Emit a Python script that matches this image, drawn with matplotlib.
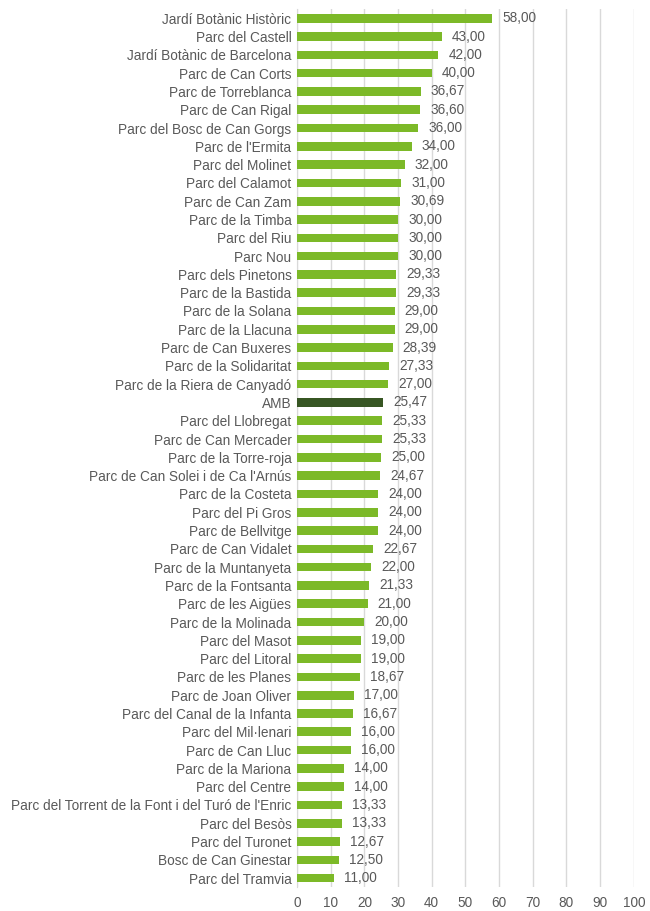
import numpy as np
import matplotlib.pyplot as plt

plt.rcParams['font.family'] = ['Liberation Sans', 'DejaVu Sans']

parks = [
    "Jardí Botànic Històric", "Parc del Castell", "Jardí Botànic de Barcelona",
    "Parc de Can Corts", "Parc de Torreblanca", "Parc de Can Rigal",
    "Parc del Bosc de Can Gorgs", "Parc de l'Ermita", "Parc del Molinet",
    "Parc del Calamot", "Parc de Can Zam", "Parc de la Timba", "Parc del Riu",
    "Parc Nou", "Parc dels Pinetons", "Parc de la Bastida", "Parc de la Solana",
    "Parc de la Llacuna", "Parc de Can Buxeres", "Parc de la Solidaritat",
    "Parc de la Riera de Canyadó", "AMB", "Parc del Llobregat",
    "Parc de Can Mercader", "Parc de la Torre-roja",
    "Parc de Can Solei i de Ca l'Arnús", "Parc de la Costeta", "Parc del Pi Gros",
    "Parc de Bellvitge", "Parc de Can Vidalet", "Parc de la Muntanyeta",
    "Parc de la Fontsanta", "Parc de les Aigües", "Parc de la Molinada",
    "Parc del Masot", "Parc del Litoral", "Parc de les Planes",
    "Parc de Joan Oliver", "Parc del Canal de la Infanta", "Parc del Mil·lenari",
    "Parc de Can Lluc", "Parc de la Mariona", "Parc del Centre",
    "Parc del Torrent de la Font i del Turó de l'Enric", "Parc del Besòs",
    "Parc del Turonet", "Bosc de Can Ginestar", "Parc del Tramvia",
]
values = [
    58.00, 43.00, 42.00, 40.00, 36.67, 36.60, 36.00, 34.00, 32.00, 31.00,
    30.69, 30.00, 30.00, 30.00, 29.33, 29.33, 29.00, 29.00, 28.39, 27.33,
    27.00, 25.47, 25.33, 25.33, 25.00, 24.67, 24.00, 24.00, 24.00, 22.67,
    22.00, 21.33, 21.00, 20.00, 19.00, 19.00, 18.67, 17.00, 16.67, 16.00,
    16.00, 14.00, 14.00, 13.33, 13.33, 12.67, 12.50, 11.00,
]

green = '#7cb928'
dark = '#375623'
grey_txt = '#595959'

fig = plt.figure(figsize=(6.5, 9.11), dpi=100)
ax = fig.add_axes([0.457, 0.026, 0.518, 0.964])

y = np.arange(len(parks))
colors = [dark if p == 'AMB' else green for p in parks]
ax.barh(y, values, height=0.47, color=colors, zorder=3)

for yi, v in zip(y, values):
    ax.text(v + 3, yi, f"{v:.2f}".replace('.', ','), va='center', ha='left',
            fontsize=9.8, color=grey_txt, zorder=4)

ax.set_ylim(len(parks) - 0.5, -0.5)
ax.set_xlim(0, 100)
ax.set_xticks(range(0, 101, 10))
ax.set_yticks(y)
ax.set_yticklabels(parks)
ax.tick_params(axis='both', length=0, labelsize=9.8, colors=grey_txt)
ax.tick_params(axis='x', pad=6)
ax.tick_params(axis='y', pad=4)
ax.xaxis.grid(True, color='#d9d9d9', linewidth=1, zorder=0)
for s in ['top', 'right', 'bottom']:
    ax.spines[s].set_visible(False)
ax.spines['left'].set_color('#d9d9d9')

fig.savefig('out.png', dpi=100)
